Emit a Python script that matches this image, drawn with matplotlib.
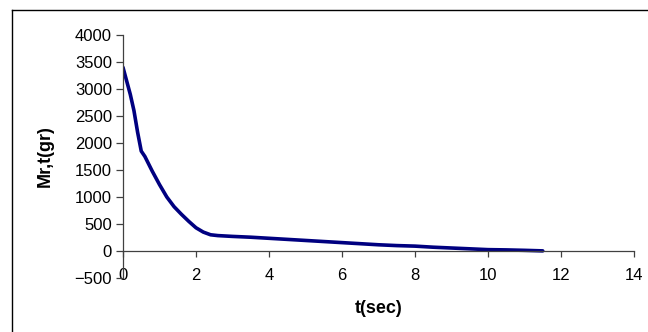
import matplotlib
matplotlib.use("Agg")
import matplotlib.pyplot as plt
from matplotlib.lines import Line2D

t_sec = [0, 0.1, 0.2, 0.3, 0.4, 0.5, 0.6, 0.8, 1.0, 1.2, 1.4, 1.6, 1.8, 2.0, 2.2,
         2.4, 2.6, 3.0, 3.5, 4.0, 4.5, 5.0, 5.5, 6.0, 6.5, 7.0, 7.5, 8.0, 8.5,
         9.0, 9.5, 10.0, 10.5, 11.0, 11.5]
mass_gr = [3400, 3150, 2900, 2600, 2200, 1850, 1750, 1480, 1230, 1000, 820, 680,
           550, 430, 350, 300, 285, 270, 255, 235, 215, 195, 175, 155, 135, 115,
           100, 90, 70, 55, 40, 25, 20, 12, 2]
x_ticks = [0, 2, 4, 6, 8, 10, 12, 14]
y_ticks = [-500, 0, 500, 1000, 1500, 2000, 2500, 3000, 3500, 4000]

plt.rcParams['font.family'] = ['Liberation Sans', 'DejaVu Sans']

fig = plt.figure(figsize=(6.48, 3.32), dpi=100)
ax = fig.add_axes([0.1898, 0.1627, 0.9784 - 0.1898, 0.8946 - 0.1627])

ax.plot(t_sec, mass_gr, color='#000080', linewidth=2.6, solid_capstyle='round')

ax.set_xlim(0, 14)
ax.set_ylim(-500, 4000)
ax.set_xticks(x_ticks)
ax.set_yticks(y_ticks)
ax.spines['top'].set_visible(False)
ax.spines['right'].set_visible(False)
ax.spines['bottom'].set_position(('data', 0))
for s in ('left', 'bottom'):
    ax.spines[s].set_color('#404040')
    ax.spines[s].set_linewidth(0.9)
ax.tick_params(axis='x', direction='out', length=4, width=0.9, color='#404040',
               pad=8, labelsize=12)
ax.tick_params(axis='y', direction='out', length=5, width=0.9, color='#404040',
               pad=3, labelsize=12)

ax.set_xlabel('t(sec)', fontsize=13, fontweight='bold')
ax.xaxis.set_label_coords(0.5, -0.09)
ax.set_ylabel('Mr,t(gr)', fontsize=13, fontweight='bold')
ax.yaxis.set_label_coords(-0.135, 0.5)

# outer chart frame (left and top edges visible)
W, H = 648, 332
fx = 11.5 / W
fy = 1 - 9.5 / H
fig.add_artist(Line2D([fx, fx], [0, fy], transform=fig.transFigure, color='black', linewidth=1))
fig.add_artist(Line2D([fx, 1], [fy, fy], transform=fig.transFigure, color='black', linewidth=1))

fig.savefig('out.png', dpi=100)
